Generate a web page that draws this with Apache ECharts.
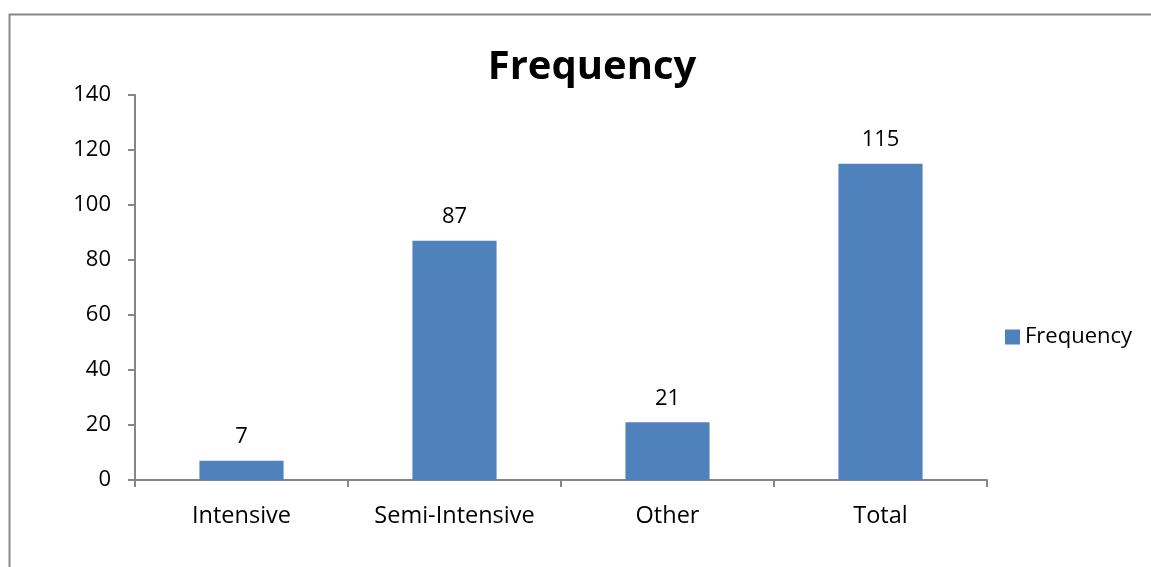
<!DOCTYPE html>
<html>
<head>
<meta charset="utf-8">
<script src="https://cdn.jsdelivr.net/npm/echarts@6/dist/echarts.min.js"></script>
<style>
  html, body { margin: 0; padding: 0; background: #fff; }
  #chart { width: 1151px; height: 567px; }
</style>
</head>
<body>
<div id="chart"></div>
<script>
// Production system counts
const categories = ['Intensive', 'Semi-Intensive', 'Other', 'Total'];
const frequency = [7, 87, 21, 115];
const seriesName = 'Frequency';
const yMin = 0, yMax = 140, yStep = 20;

const FONT = '"Open Sans", "Noto Sans", sans-serif';
const AXIS = '#868686';

const chart = echarts.init(document.getElementById('chart'), null, { renderer: 'canvas' });
chart.setOption({
  backgroundColor: '#ffffff',
  animation: false,
  graphic: [{
    type: 'rect',
    shape: { x: 9.5, y: 14.5, width: 1300, height: 700 },
    style: { fill: 'none', stroke: '#898989', lineWidth: 2 },
    silent: true
  }],
  title: {
    text: 'Frequency',
    left: 587, top: 43, textAlign: 'center',
    textStyle: { fontFamily: FONT, fontSize: 40, fontWeight: 'bold', color: '#000' }
  },
  legend: {
    data: [seriesName],
    left: 1000, top: 321,
    itemWidth: 15, itemHeight: 15, itemGap: 6,
    icon: 'rect',
    textStyle: { fontFamily: FONT, fontSize: 22, color: '#000' }
  },
  grid: { left: 135, right: 164, top: 95, bottom: 87 },
  xAxis: {
    type: 'category',
    data: categories,
    boundaryGap: true,
    axisLine: { lineStyle: { color: AXIS, width: 2 } },
    axisTick: { show: true, length: 7, lineStyle: { color: AXIS, width: 2 } },
    axisLabel: { fontFamily: FONT, fontSize: 23.5, color: '#000', margin: 24 },
    splitLine: { show: false }
  },
  yAxis: {
    type: 'value',
    min: yMin, max: yMax, interval: yStep,
    axisLine: { show: true, lineStyle: { color: AXIS, width: 2 } },
    axisTick: { show: true, length: 7, lineStyle: { color: AXIS, width: 2 } },
    axisLabel: { fontFamily: FONT, fontSize: 22, color: '#000', margin: 24 },
    splitLine: { show: false }
  },
  series: [{
    name: seriesName,
    type: 'bar',
    data: frequency,
    barWidth: '39.5%',
    itemStyle: { color: '#4F81BD' },
    label: {
      show: true, position: 'top', distance: 13,
      fontFamily: FONT, fontSize: 22, color: '#000'
    }
  }]
});
</script>
</body>
</html>
